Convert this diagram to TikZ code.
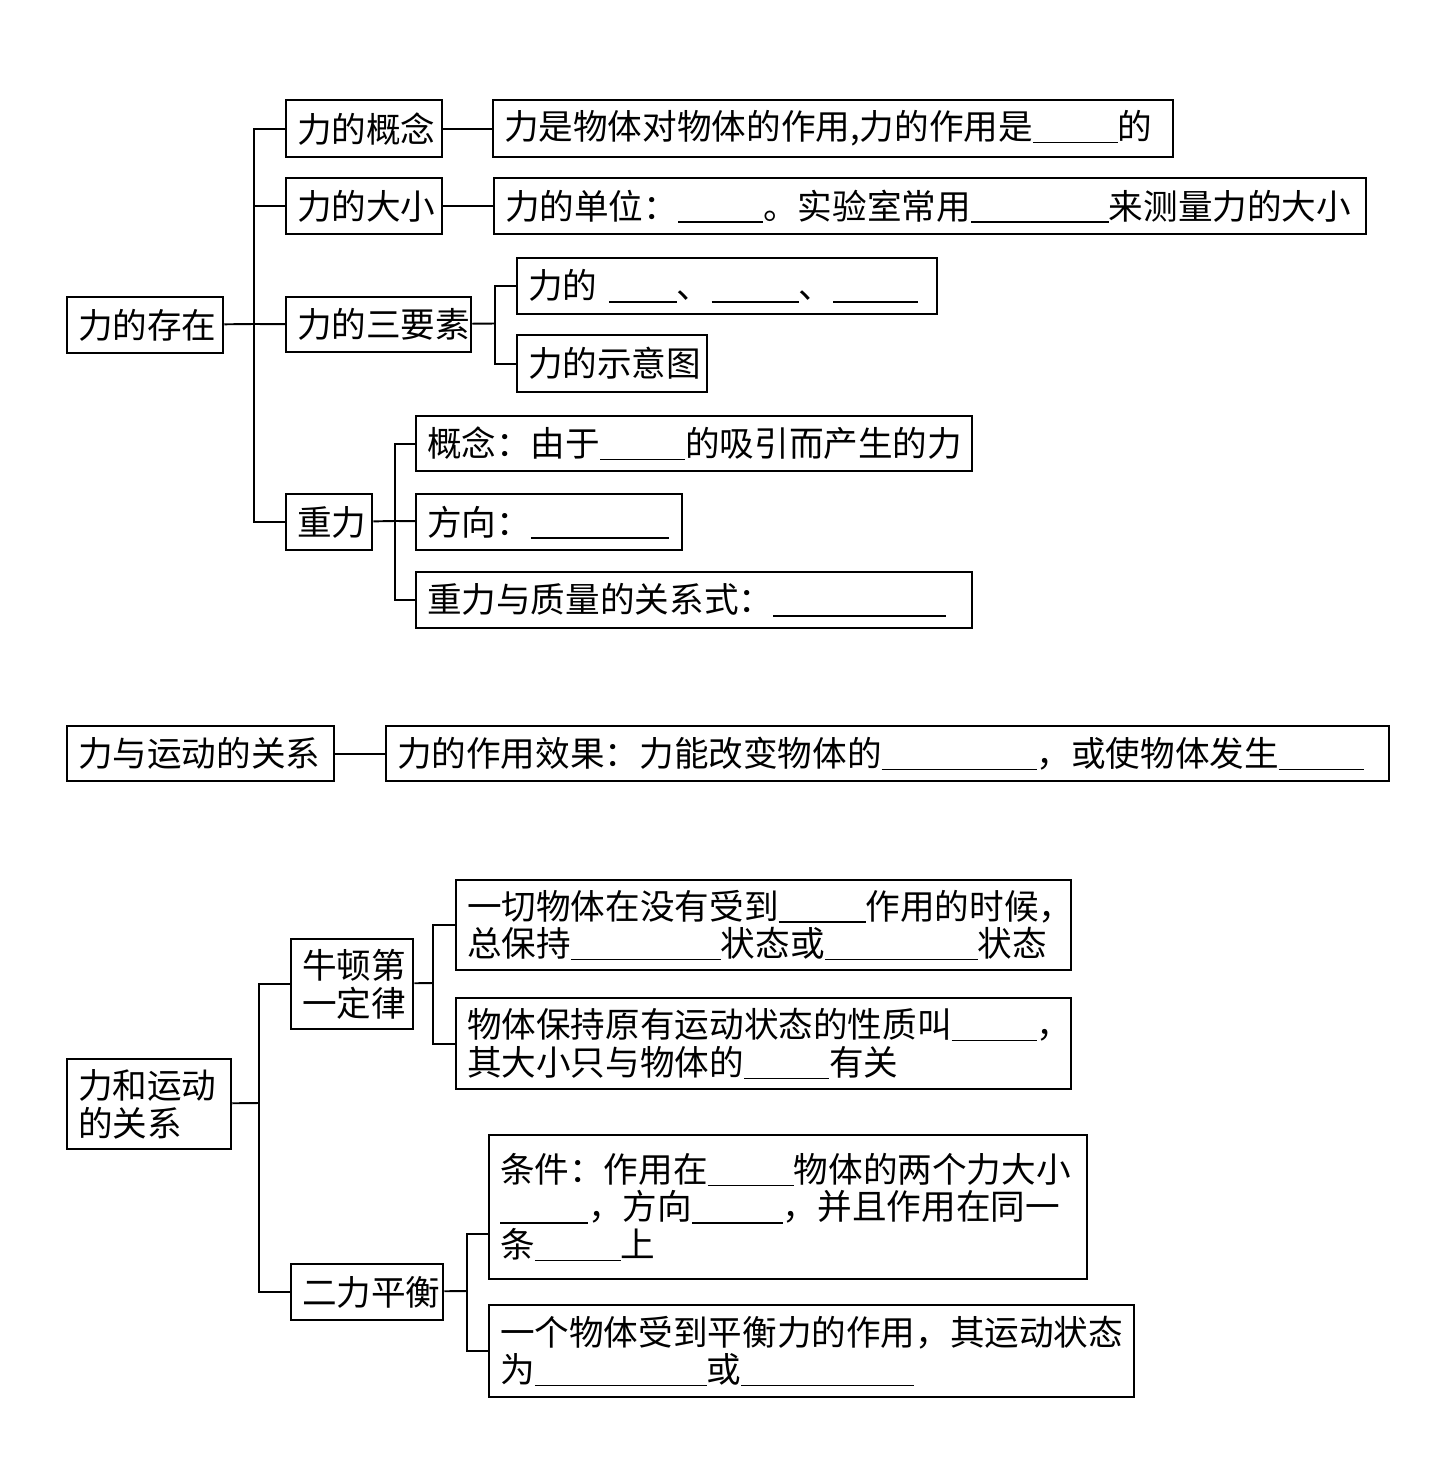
\documentclass[tikz,border=0pt]{standalone}
\usepackage{fontspec}
\newfontfamily\cjk{Noto Sans CJK SC}
\newlength\blankunit
\setlength\blankunit{0.02cm}
\newcommand\blank[1]{\rule[-2pt]{#1\blankunit}{0.7pt}}
\begin{document}
\begin{tikzpicture}[
            x=0.02cm, y=-0.02cm,
            box/.style={draw, line width=1.3pt, anchor=north west, inner xsep=0.22cm, inner ysep=0pt,
                align=left, font=\cjk\fontsize{19.7pt}{21.5pt}\selectfont},
            link/.style={draw, line width=1.1pt},
        ]
            \useasboundingbox (0,0) rectangle (1454,1470);

            % force exists
            \node[box, text width=2.68cm, minimum height=1.12cm] (exist) at (66,296) {力的存在};
            \node[box, text width=2.68cm, minimum height=1.14cm] (concept) at (285,99) {力的概念};
            \node[box, text width=2.68cm, minimum height=1.12cm] (size) at (285,177) {力的大小};
            \node[box, text width=3.26cm, minimum height=1.10cm] (elements) at (285,296) {力的三要素};
            \node[box, text width=1.28cm, minimum height=1.12cm] (gravity) at (285,493) {重力};

            \node[box, text width=13.16cm, minimum height=1.14cm] (conceptA) at (492,99) {力是物体对物体的作用,力的作用是\blank{85}的};
            \node[box, text width=17.0cm, minimum height=1.12cm] (sizeA) at (493,177) {力的单位：\blank{85}。实验室常用\blank{138}来测量力的大小};
            \node[box, text width=7.96cm, minimum height=1.12cm] (elemA) at (516,257) {力的\ \blank{68}、\blank{87}、\blank{85}};
            \node[box, text width=3.36cm, minimum height=1.14cm] (elemB) at (516,334) {力的示意图};
            \node[box, text width=10.68cm, minimum height=1.10cm] (gravA) at (415,415) {概念：由于\blank{85}的吸引而产生的力};
            \node[box, text width=4.88cm, minimum height=1.12cm] (gravB) at (415,493) {方向：\blank{138}};
            \node[box, text width=10.68cm, minimum height=1.12cm] (gravC) at (415,571) {重力与质量的关系式：\blank{173}};

            \coordinate (j0) at (254,324);
            \coordinate (j1) at (495,323.5);
            \coordinate (j2) at (395,521);

            \path[link] (exist) -- (j0);
            \path[link] (j0) |- (concept);
            \path[link] (j0) |- (size);
            \path[link] (j0) -- (elements);
            \path[link] (j0) |- (gravity);
            \path[link] (concept) -- (conceptA);
            \path[link] (size) -- (sizeA);
            \path[link] (elements) -- (j1);
            \path[link] (j1) |- (elemA);
            \path[link] (j1) |- (elemB);
            \path[link] (gravity) -- (j2);
            \path[link] (j2) |- (gravA);
            \path[link] (j2) -- (gravB);
            \path[link] (j2) |- (gravC);

            % force and motion, effect
            \node[box, text width=4.90cm, minimum height=1.10cm] (relate) at (66,725) {力与运动的关系};
            \node[box, text width=19.62cm, minimum height=1.10cm] (relateA) at (385,725) {力的作用效果：力能改变物体的\blank{155}，或使物体发生\blank{85}};
            \path[link] (relate) -- (relateA);

            % force and motion, laws
            \node[box, text width=2.84cm, minimum height=1.80cm] (motion) at (66,1058) {力和运动\\的关系};
            \node[box, text width=2.00cm, minimum height=1.80cm] (newton) at (290,938) {牛顿第\\一定律};
            \node[box, text width=2.60cm, minimum height=1.12cm] (balance) at (290,1263) {二力平衡};

            \node[box, text width=11.86cm, minimum height=1.80cm] (newtonA) at (455,879) {一切物体在没有受到\blank{87}作用的时候，\\总保持\blank{150}状态或\blank{153}状态};
            \node[box, text width=11.86cm, minimum height=1.82cm] (newtonB) at (455,997) {物体保持原有运动状态的性质叫\blank{85}，\\其大小只与物体的\blank{85}有关};
            \node[box, text width=11.52cm, minimum height=2.88cm] (balanceA) at (488,1134) {条件：作用在\blank{86}物体的两个力大小\\\blank{88}，方向\blank{91}，并且作用在同一\\条\blank{86}上};
            \node[box, text width=12.46cm, minimum height=1.84cm] (balanceB) at (488,1304) {一个物体受到平衡力的作用，其运动状态\\为\blank{172}或\blank{173}};

            \coordinate (j3) at (259,1103);
            \coordinate (j4) at (433,983);
            \coordinate (j5) at (467,1291);

            \path[link] (motion) -- (j3);
            \path[link] (j3) |- (newton);
            \path[link] (j3) |- (balance);
            \path[link] (newton) -- (j4);
            \path[link] (j4) |- (newtonA);
            \path[link] (j4) |- (newtonB);
            \path[link] (balance) -- (j5);
            \path[link] (j5) |- ([yshift=-0.54cm]balanceA.west);
            \path[link] (j5) |- (balanceB);
        \end{tikzpicture}
\end{document}
